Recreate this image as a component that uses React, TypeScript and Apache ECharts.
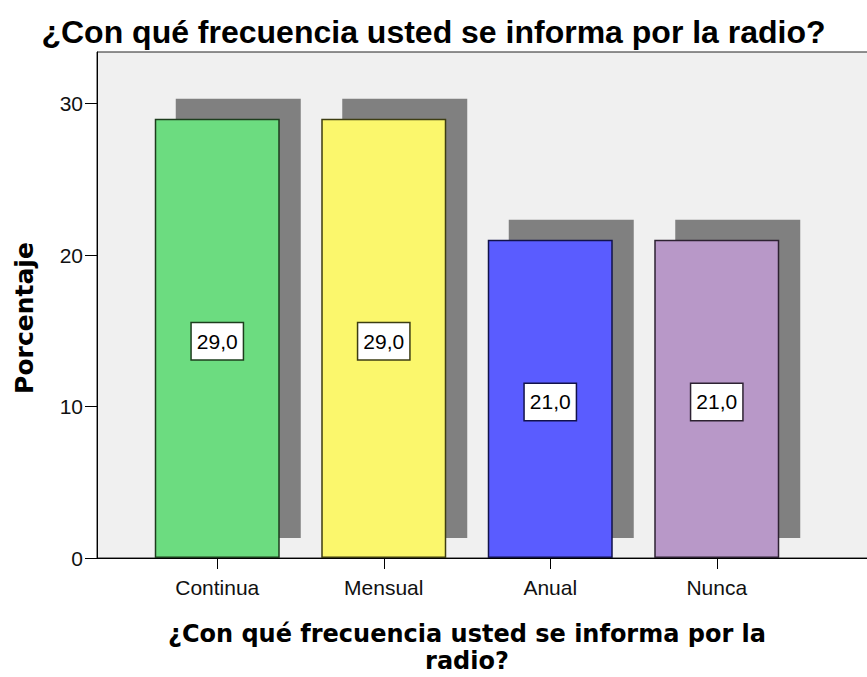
import React, { useEffect, useRef } from "react";
import * as echarts from "echarts";

const chartTitle = "¿Con qué frecuencia usted se informa por la radio?";
const xAxisTitle = "¿Con qué frecuencia usted se informa por la\nradio?";
const yAxisTitle = "Porcentaje";
const categories = ["Continua", "Mensual", "Anual", "Nunca"];
const percentages = [29.0, 29.0, 21.0, 21.0];
const yTicks = [0, 10, 20, 30];
const yMax = 33.4;
const barColors = ["#6cdc80", "#fbf76c", "#5a5cff", "#b898c8"];
const barBorders = ["#1d3d1d", "#3d3d12", "#12124a", "#2d2232"];

export default function App() {
  const ref = useRef<HTMLDivElement>(null);

  useEffect(() => {
    document.body.style.margin = "0";
    if (!ref.current) return;
    const chart = echarts.init(ref.current, null, { renderer: "svg" });

    const hiddenY = (gridIndex: number) => ({
      gridIndex,
      type: "value",
      min: 0,
      max: yMax,
      show: false,
      splitLine: { show: false },
    });

    chart.setOption({
      animation: false,
      backgroundColor: "#ffffff",
      title: {
        text: chartTitle,
        left: "center",
        top: 16,
        padding: 0,
        textStyle: {
          fontFamily: "Liberation Sans",
          fontWeight: "bold",
          fontSize: 32,
          color: "#000",
        },
      },
      grid: [
        {
          left: 97,
          right: -2,
          top: 52,
          bottom: 119,
          show: true,
          backgroundColor: "#f0f0f0",
          borderColor: "#222",
          borderWidth: 1,
          outerBoundsMode: "none",
        },
        { left: 134, right: 67, top: 52, bottom: 119, outerBoundsMode: "none" },
        { left: 155, right: 46, top: 32, bottom: 139, outerBoundsMode: "none" },
      ],
      xAxis: [
        {
          gridIndex: 0,
          type: "value",
          min: 0,
          max: 1,
          axisLine: { show: true, lineStyle: { color: "#000", width: 1 } },
          axisTick: { show: false },
          axisLabel: { show: false },
          splitLine: { show: false },
        },
        {
          gridIndex: 1,
          type: "category",
          data: categories,
          name: xAxisTitle,
          nameLocation: "middle",
          nameGap: 62,
          nameTextStyle: {
            fontFamily: "DejaVu Sans",
            fontWeight: "bold",
            fontSize: 24,
            lineHeight: 27,
            color: "#000",
          },
          axisLine: { show: false },
          axisTick: {
            show: true,
            alignWithLabel: true,
            length: 11,
            lineStyle: { color: "#000", width: 1 },
          },
          axisLabel: {
            margin: 19,
            fontFamily: "Liberation Sans",
            fontSize: 21,
            color: "#111",
          },
        },
        { gridIndex: 2, type: "category", data: categories, show: false },
      ],
      yAxis: [
        {
          gridIndex: 0,
          type: "value",
          min: 0,
          max: yMax,
          name: yAxisTitle,
          nameLocation: "middle",
          nameGap: 60,
          nameTextStyle: {
            fontFamily: "DejaVu Sans",
            fontWeight: "bold",
            fontSize: 25,
            color: "#000",
            padding: [0, 26, 0, 0],
          },
          axisLine: { show: true, lineStyle: { color: "#000", width: 1 } },
          axisTick: {
            show: true,
            customValues: yTicks,
            length: 12,
            lineStyle: { color: "#000", width: 1 },
          },
          axisLabel: {
            customValues: yTicks,
            margin: 14,
            fontFamily: "Liberation Sans",
            fontSize: 21,
            color: "#111",
          },
          splitLine: { show: false },
        },
        hiddenY(1),
        hiddenY(2),
      ],
      series: [
        {
          name: "sombra",
          type: "bar",
          xAxisIndex: 2,
          yAxisIndex: 2,
          data: percentages,
          barWidth: 125,
          silent: true,
          z: 1,
          itemStyle: { color: "#808080" },
        },
        {
          name: "Porcentaje",
          type: "bar",
          xAxisIndex: 1,
          yAxisIndex: 1,
          barWidth: 125,
          z: 2,
          data: percentages.map((v, i) => ({
            value: v,
            itemStyle: {
              color: barColors[i],
              borderColor: barBorders[i],
              borderWidth: 1.5,
            },
            label: { borderColor: barBorders[i] },
          })),
          label: {
            show: true,
            position: "inside",
            offset: [0, 3],
            formatter: (p: any) => Number(p.value).toFixed(1).replace(".", ","),
            fontFamily: "Liberation Sans",
            fontSize: 21,
            lineHeight: 22,
            color: "#000",
            backgroundColor: "#ffffff",
            borderWidth: 1.5,
            padding: [7, 5, 7, 5],
          },
        },
      ],
    });

    return () => chart.dispose();
  }, []);

  return (
    <div
      ref={ref}
      style={{ position: "absolute", left: 0, top: 0, width: 867, height: 677 }}
    />
  );
}
